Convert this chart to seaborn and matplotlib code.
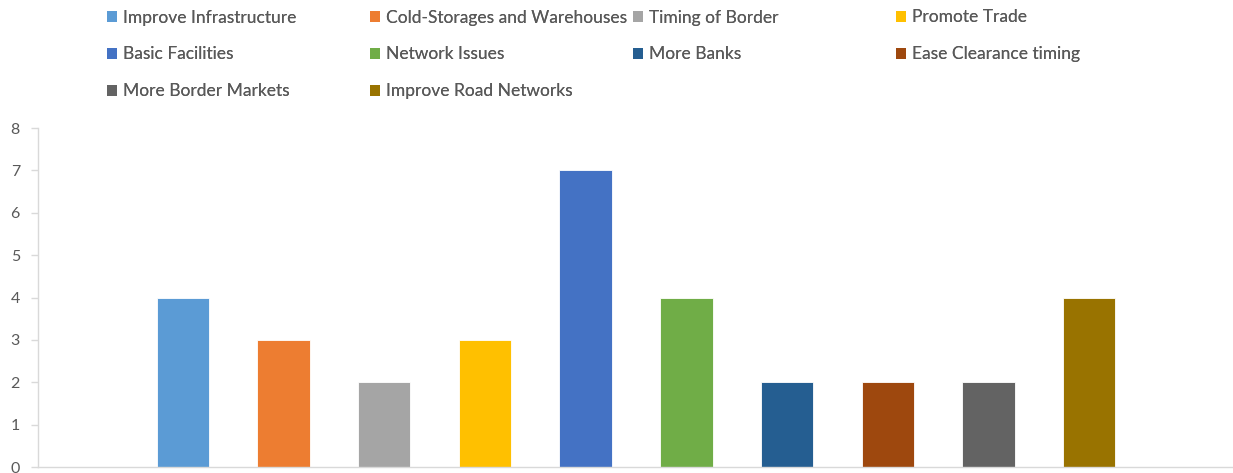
import matplotlib
matplotlib.use("Agg")
import matplotlib.pyplot as plt
import seaborn as sns
import pandas as pd
from matplotlib.patches import Patch

categories = ["Improve Infrastructure", "Cold-Storages and Warehouses", "Timing of Border",
              "Promote Trade", "Basic Facilities", "Network Issues", "More Banks",
              "Ease Clearance timing", "More Border Markets", "Improve Road Networks"]
values = [4, 3, 2, 3, 7, 4, 2, 2, 2, 4]
colors = ["#5B9BD5", "#ED7D31", "#A5A5A5", "#FFC000", "#4472C4", "#70AD47",
          "#255E91", "#9E480E", "#636363", "#997300"]
yticks = [0, 1, 2, 3, 4, 5, 6, 7, 8]

sns.set_style("white")
plt.rcParams['font.family'] = ['Lato', 'DejaVu Sans']

df = pd.DataFrame({"cat": categories, "val": values})
fig = plt.figure(figsize=(12.33, 4.73), dpi=100)
ax = fig.add_axes([38/1233, (473-467)/473, 1 - 38/1233, (467-128)/473])

sns.barplot(data=df, x="cat", y="val", hue="cat", order=categories, hue_order=categories,
            palette=colors, width=0.52, legend=False, ax=ax, saturation=1,
            edgecolor="#FFFFFF", linewidth=0.6)

ax.set_xlim(-1.44, 10.43)
ax.set_ylim(0, 8)
ax.set_yticks(yticks)
ax.set_yticklabels([str(t) for t in yticks])
ax.set_xticks([])
ax.set_xlabel("")
ax.set_ylabel("")
for s in ["top", "right"]:
    ax.spines[s].set_visible(False)
for s in ["left", "bottom"]:
    ax.spines[s].set_color("#D9D9D9")
    ax.spines[s].set_linewidth(1.0)
ax.tick_params(axis="y", colors="#D9D9D9", labelcolor="#595959", labelsize=11.5,
               length=5, width=1, left=True, direction="out", pad=8)

# legend: 4 fixed-width columns, row-major order
col_x = [107, 370, 633, 896]
ncol = 4
for j in range(ncol):
    idx = list(range(j, len(categories), ncol))
    handles = [Patch(facecolor=colors[i], edgecolor="none") for i in idx]
    labels = [categories[i] for i in idx]
    leg = fig.legend(handles, labels, loc="upper left",
                     bbox_to_anchor=(col_x[j]/1233, 1 - 9.5/473),
                     frameon=False, fontsize=12.5, handlelength=0.6, handleheight=0.6,
                     handletextpad=0.35, labelspacing=1.2, borderpad=0, borderaxespad=0)
    for t in leg.get_texts():
        t.set_color("#595959")
    fig.add_artist(leg)

fig.savefig("out.png", dpi=100)
